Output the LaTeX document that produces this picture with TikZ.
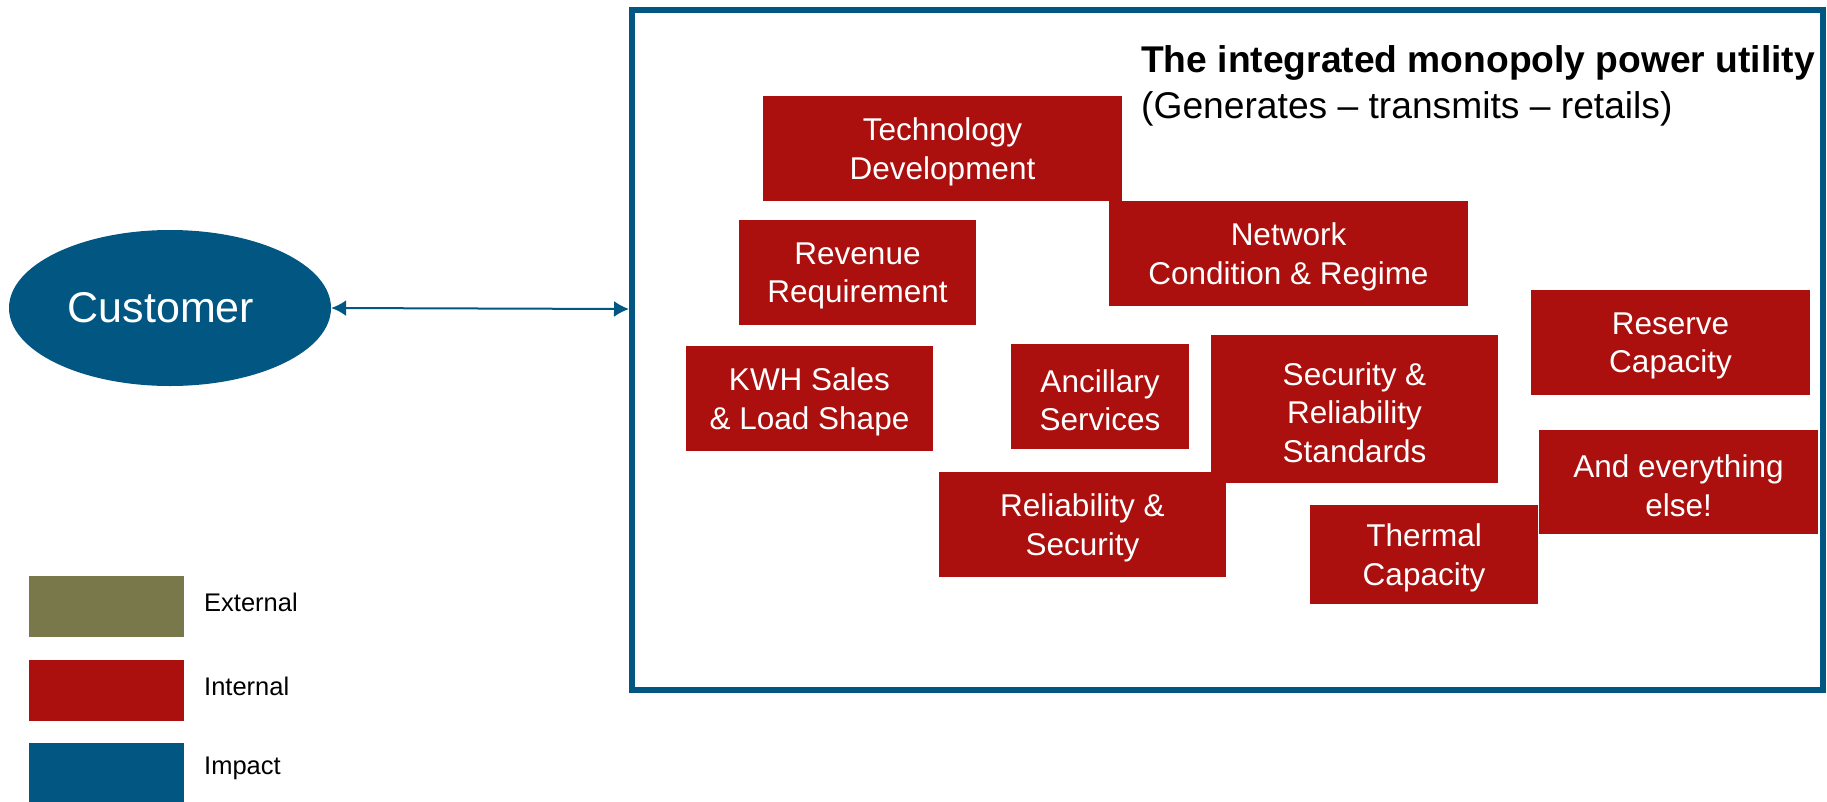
\documentclass[tikz,border=0pt]{standalone}
\usepackage{fontspec}
\setmainfont{Liberation Sans}
\usetikzlibrary{shapes.geometric,arrows.meta}
\definecolor{intred}{RGB}{171,16,14}
\definecolor{impblue}{RGB}{2,87,130}
\definecolor{extolive}{RGB}{120,120,74}
\tikzset{
  redbox/.style={fill=intred, inner sep=0pt},
  boxtext/.style={text=white, align=center, inner sep=0pt, yshift=-3.5pt,
    font=\fontsize{31.5}{38.5}\selectfont},
  legbox/.style={minimum width=155pt, minimum height=61pt, inner sep=0pt},
  legtext/.style={anchor=west, inner sep=0pt, font=\fontsize{25.5}{30}\selectfont},
  arr/.style={draw=impblue, line width=2pt, {Latex[length=15pt,width=16pt]}-{Latex[length=15pt,width=16pt]}}
}
\begin{document}
\begin{tikzpicture}[x=1pt,y=-1pt]
\useasboundingbox (0,0) rectangle (1827,801);
% frame
\node[draw=impblue, line width=6pt, minimum width=1191pt, minimum height=680pt, inner sep=0pt] (frame) at (1227.5,350) {};
% title
\node[anchor=base west, inner sep=0pt, font=\fontsize{37.2}{44}\bfseries\selectfont] (title1) at (1141,72) {The integrated monopoly power utility};
\node[anchor=base west, inner sep=0pt, font=\fontsize{37.2}{44}\selectfont] (title2) at (1141,118) {(Generates – transmits – retails)};
% customer
\node[ellipse, fill=impblue, minimum width=322pt, minimum height=156pt, inner sep=0pt,
  label={[text=white, inner sep=0pt, xshift=-9pt, font=\fontsize{43}{50}\selectfont]center:Customer}] (cust) at (170,308) {};
\draw[arr] (cust.east) -- (frame.west |- 0,309);
% internal boxes
\node[redbox, minimum width=359pt, minimum height=105pt, label={[boxtext]center:{Technology\\Development}}] (tech) at (942.5,148.5) {};
\node[redbox, minimum width=237pt, minimum height=105pt, label={[boxtext]center:{Revenue\\Requirement}}] (rev) at (857.5,272.5) {};
\node[redbox, minimum width=359pt, minimum height=105pt, label={[boxtext]center:{Network\\Condition \& Regime}}] (net) at (1288.5,253.5) {};
\node[redbox, minimum width=247pt, minimum height=105pt, label={[boxtext]center:{KWH Sales\\\& Load Shape}}] (kwh) at (809.5,398.5) {};
\node[redbox, minimum width=178pt, minimum height=105pt, label={[boxtext]center:{Ancillary\\Services}}] (anc) at (1100,396.5) {};
\node[redbox, minimum width=287pt, minimum height=148pt, label={[boxtext]center:{Security \&\\Reliability\\Standards}}] (srs) at (1354.5,409) {};
\node[redbox, minimum width=287pt, minimum height=105pt, label={[boxtext]center:{Reliability \&\\Security}}] (rns) at (1082.5,524.5) {};
\node[redbox, minimum width=228pt, minimum height=99pt, label={[boxtext]center:{Thermal\\Capacity}}] (therm) at (1424,554.5) {};
\node[redbox, minimum width=279pt, minimum height=105pt, label={[boxtext]center:{Reserve\\Capacity}}] (res) at (1670.5,342.5) {};
\node[redbox, minimum width=279pt, minimum height=104pt, label={[boxtext]center:{And everything\\else!}}] (else) at (1678.5,482) {};
% legend
\node[legbox, fill=extolive] (lext) at (106.5,606.5) {};
\node[legbox, fill=intred] (lint) at (106.5,690) {};
\node[legbox, fill=impblue] (limp) at (106.5,773) {};
\node[legtext] (text1) at (204,602) {External};
\node[legtext] (text2) at (204,686) {Internal};
\node[legtext] (text3) at (204,768) {Impact};
\end{tikzpicture}
\end{document}
